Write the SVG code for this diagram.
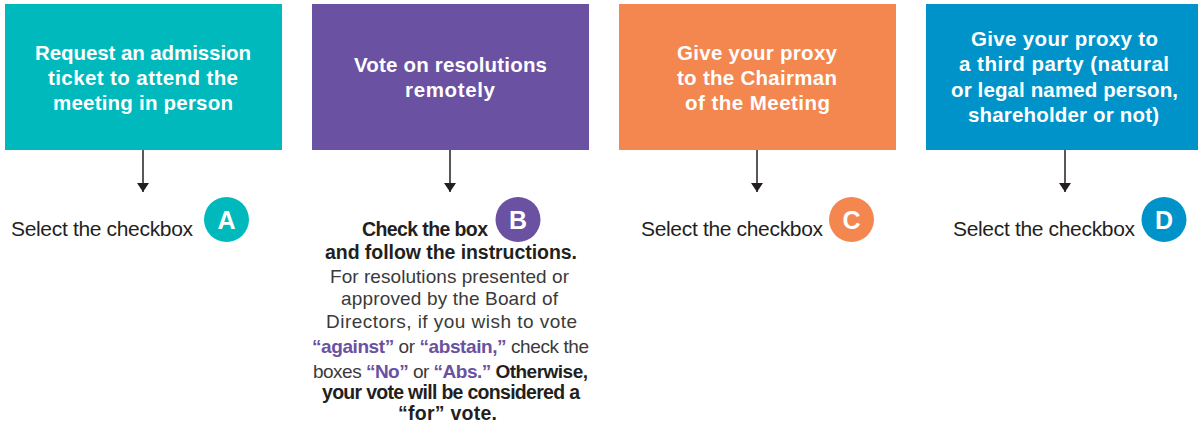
<svg xmlns="http://www.w3.org/2000/svg" width="1198" height="428" viewBox="0 0 1198 428">
<style>
text{font-family:"Liberation Sans",Arial,sans-serif;}
.hd{font-size:20.5px;font-weight:bold;fill:#ffffff;}
.sel{font-size:21px;fill:#231F20;}
.lt{font-size:25px;font-weight:bold;fill:#ffffff;text-anchor:middle;}
.bb{font-size:19.5px;font-weight:bold;fill:#231F20;}
.rg{font-size:19px;fill:#3A3A3A;}
.pb{font-weight:bold;fill:#6A51A1;}
.db{font-weight:bold;fill:#231F20;}
.conn{stroke:#231F20;stroke-width:1.5;fill:none;}
</style>
<defs>
<marker id="ah" markerUnits="userSpaceOnUse" markerWidth="12" markerHeight="12" refX="9" refY="6" orient="auto">
<path d="M0,0 L9,6 L0,12 z" fill="#231F20"/>
</marker>
</defs>
<g id="node-a">
<rect x="5" y="4" width="277" height="146" fill="#00B9BC"/>
<text class="hd" x="35" y="60" textLength="216">Request an admission</text>
<text class="hd" x="48" y="85" textLength="190">ticket to attend the</text>
<text class="hd" x="53" y="110" textLength="180">meeting in person</text>
</g>
<g id="node-b">
<rect x="312" y="4" width="277" height="146" fill="#6A51A1"/>
<text class="hd" x="354" y="72" textLength="193">Vote on resolutions</text>
<text class="hd" x="405" y="97" textLength="90">remotely</text>
</g>
<g id="node-c">
<rect x="619" y="4" width="277" height="146" fill="#F48650"/>
<text class="hd" x="677" y="60" textLength="160">Give your proxy</text>
<text class="hd" x="677" y="85" textLength="160">to the Chairman</text>
<text class="hd" x="685" y="110" textLength="145">of the Meeting</text>
</g>
<g id="node-d">
<rect x="926" y="4" width="277" height="146" fill="#0093C9"/>
<text class="hd" x="971" y="46" textLength="187">Give your proxy to</text>
<text class="hd" x="959" y="71" textLength="210">a third party (natural</text>
<text class="hd" x="951" y="97" textLength="227">or legal named person,</text>
<text class="hd" x="968" y="122" textLength="191">shareholder or not)</text>
</g>
<g id="result-a">
<text class="sel" x="11" y="236" textLength="182">Select the checkbox</text>
<circle cx="226.5" cy="219.5" r="22.5" fill="#00B9BC"/>
<text class="lt" x="226.5" y="228.5">A</text>
</g>
<g id="result-b">
<text class="bb" x="362" y="236" textLength="126">Check the box</text>
<circle cx="518" cy="219.5" r="22.5" fill="#6A51A1"/>
<text class="lt" x="518" y="228.5">B</text>
<text class="bb" x="325" y="259" textLength="252">and follow the instructions.</text>
<text class="rg" x="330" y="283" textLength="239">For resolutions presented or</text>
<text class="rg" x="341" y="305" textLength="217">approved by the Board of</text>
<text class="rg" x="326" y="328" textLength="251">Directors, if you wish to vote</text>
<text class="rg" x="312" y="353" textLength="277"><tspan class="pb">“against”</tspan> or <tspan class="pb">“abstain,”</tspan> check the</text>
<text class="rg" x="313" y="378" textLength="275">boxes <tspan class="pb">“No”</tspan> or <tspan class="pb">“Abs.”</tspan><tspan class="db"> Otherwise,</tspan></text>
<text class="bb" x="322" y="399" textLength="258">your vote will be considered a</text>
<text class="bb" x="398" y="420" textLength="99">“for” vote.</text>
</g>
<g id="result-c">
<text class="sel" x="641" y="236" textLength="182">Select the checkbox</text>
<circle cx="851.5" cy="219.5" r="22.5" fill="#F48650"/>
<text class="lt" x="851.5" y="228.5">C</text>
</g>
<g id="result-d">
<text class="sel" x="953" y="236" textLength="182">Select the checkbox</text>
<circle cx="1164" cy="219.5" r="22.5" fill="#0093C9"/>
<text class="lt" x="1164" y="228.5">D</text>
</g>
<g id="connectors">
<line class="conn" x1="143" y1="150" x2="143" y2="192" marker-end="url(#ah)"/>
<line class="conn" x1="450" y1="150" x2="450" y2="192" marker-end="url(#ah)"/>
<line class="conn" x1="757" y1="150" x2="757" y2="192" marker-end="url(#ah)"/>
<line class="conn" x1="1065" y1="150" x2="1065" y2="192" marker-end="url(#ah)"/>
</g>
</svg>
